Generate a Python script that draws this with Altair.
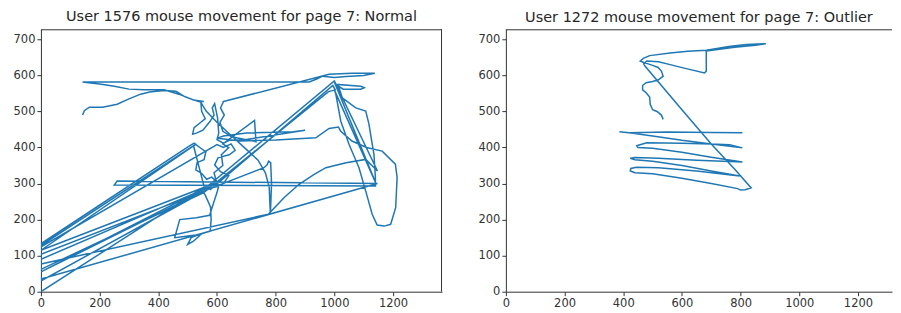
import altair as alt
import pandas as pd

# ---- data (mouse coordinates) ----
left_x = [0, 545, 560, 578, 580, 577, 541, 512, 500, 520, 546, 456, 473, 530, 575, 590, 600,
          605, 600, 582, 565, 548, 528, 532, 556, 562, 545, 522, 505,
          0, 0,
          600, 622, 648, 662, 642, 604, 592, 612, 640, 624, 602, 572,
          0, 590, 0, 530, 0, 520, 560, 0,
          0, 0, 1147, 260, 250, 1140, 1140,
          1135, 1129, 1118, 1107, 1073, 1027, 1016, 1010, 1090, 1102, 1090, 1030, 1003, 1141, 1000, 1005,
          1022, 1050, 1084, 1107, 1129, 1146, 1170, 1192, 1209, 1214, 1208, 1163, 1110, 1060, 1021, 1014, 982, 937, 800, 680, 602, 622, 700, 860, 900, 700, 642, 622, 600,
          606, 602, 592, 584, 590, 576, 552, 530, 517, 522, 545, 560, 548, 545, 563, 600, 650, 700, 740, 765, 778, 782, 786, 783, 776, 771, 760,
          0, 0, 775, 830, 880, 930, 971, 1040, 1107, 1147, 1000, 563, 578, 995, 1003, 980, 555,
          0, 0, 600, 590, 620, 615, 640, 620, 728, 733, 650, 620, 610, 625, 612, 622, 619, 982,
          1060, 1138, 1100, 1040, 1000, 960, 940, 914, 142,
          170, 200, 250, 300, 350, 420, 470, 520, 555, 540, 510, 490, 460, 420, 370, 340, 300, 260, 210, 165, 148, 142]
left_y = [0, 285, 268, 235, 200, 168, 159, 150, 131, 140, 159, 150, 200, 205, 212, 250, 275,
          290, 305, 318, 312, 328, 338, 358, 366, 388, 398, 412, 404,
          133, 124,
          408, 400, 410, 392, 380, 372, 352, 333, 322, 302, 292, 286,
          55, 300, 115, 410, 128, 405, 280, 30,
          45, 35, 300, 307, 296, 293, 316,
          381, 410, 465, 501, 510, 538, 566, 575, 570, 566, 562, 562, 576, 302, 560, 548,
          473, 409, 344, 279, 215, 185, 182, 187, 233, 317, 354, 390, 400, 418, 446, 457, 453, 427, 421, 418, 426, 432, 440, 444, 448, 422, 420, 412, 422,
          440, 482, 522, 510, 490, 472, 448, 440, 437, 455, 470, 480, 500, 525, 501, 470, 432, 395, 365, 330, 290, 214, 300, 358, 362, 352, 344,
          104, 77, 215, 262, 298, 325, 344, 358, 367, 335, 585, 289, 284, 572, 560, 555, 275,
          62, 90, 300, 330, 350, 380, 400, 410, 475, 416, 430, 445, 470, 490, 510, 527, 527, 603,
          606, 606, 600, 597, 594, 598, 590, 582, 582,
          579, 576, 570, 562, 560, 560, 548, 532, 528, 527, 535, 541, 556, 558, 554, 548, 535, 520, 512, 512, 502, 490]

right_x = [536, 530, 515, 500, 492, 490, 478, 466, 466, 478, 500, 520, 536, 530, 519, 500, 485, 470, 458,
           470, 490, 560, 620, 683, 760, 819, 886, 850, 780, 683, 683, 677, 604, 560, 520, 480, 470, 474,
           600, 700, 780, 836,
           815, 800, 790, 700, 600, 500, 440, 424, 426, 445, 520, 650, 797,
           700, 600, 500, 440, 424, 440, 520, 650, 806,
           700, 600, 500, 450, 446, 480, 600, 700, 763, 806,
           700, 600, 500, 420, 387, 420, 550, 700, 806]
right_y = [478, 490, 500, 505, 520, 540, 552, 560, 572, 580, 583, 588, 598, 612, 622, 628, 632, 636, 640,
           648, 655, 662, 667, 670, 680, 686, 688, 684, 678, 668, 612, 607, 621, 630, 638, 640, 632, 626,
           505, 410, 340, 288,
           283, 282, 286, 300, 315, 327, 330, 335, 342, 345, 344, 335, 321,
           335, 350, 362, 366, 370, 372, 370, 365, 360,
           373, 387, 398, 400, 405, 413, 412, 410, 408, 399,
           410, 420, 432, 441, 444, 441, 443, 442, 441]

titles = ["User 1576 mouse movement for page 7: Normal",
          "User 1272 mouse movement for page 7: Outlier"]
x_ticks = [0, 200, 400, 600, 800, 1000, 1200]
y_ticks = [0, 100, 200, 300, 400, 500, 600, 700]

FRAME = "#333333"
H = 263
UNIT = 402 / 1367.0


def panel(xs, ys, title, width, right_border):
    df = pd.DataFrame({"x": xs, "y": ys, "i": list(range(len(xs)))})
    xmax = width / UNIT
    line = alt.Chart(df).mark_line(
        color="#1f77b4", strokeWidth=1.5, clip=True
    ).encode(
        x=alt.X("x:Q", scale=alt.Scale(domain=[0, xmax], nice=False, zero=False),
                axis=alt.Axis(values=x_ticks, title=None, grid=False, labelFlush=False, format="d")),
        y=alt.Y("y:Q", scale=alt.Scale(domain=[0, 728], nice=False, zero=False),
                axis=alt.Axis(values=y_ticks, title=None, grid=False, format="d")),
        order="i:Q",
    )
    dummy = pd.DataFrame({"a": [0]})
    top = alt.Chart(dummy).mark_rule(color=FRAME, strokeWidth=1).encode(
        x=alt.value(0), x2=alt.value(width), y=alt.value(0.5))
    layers = [line, top]
    if right_border:
        rb = alt.Chart(dummy).mark_rule(color=FRAME, strokeWidth=1).encode(
            x=alt.value(width - 0.5), y=alt.value(0), y2=alt.value(H))
        layers.append(rb)
    return alt.layer(*layers, title=alt.Title(title, fontSize=14.5, font="DejaVu Sans",
                                               fontWeight="normal", color="#262626",
                                               offset=4)).properties(width=width, height=H)


chart = alt.hconcat(
    panel(left_x, left_y, titles[0], 402, True),
    panel(right_x, right_y, titles[1], 387, False),
    spacing=35,
).properties(
    padding={"left": 5, "top": 1, "right": 0, "bottom": 0}
).configure_view(
    stroke=None
).configure_axis(
    domainColor=FRAME, tickColor=FRAME, tickSize=4, labelPadding=2,
    labelFontSize=11.5, labelFont="DejaVu Sans", labelColor="#333333"
)

chart.save("out.html", embed_options={"renderer": "svg", "actions": False})
